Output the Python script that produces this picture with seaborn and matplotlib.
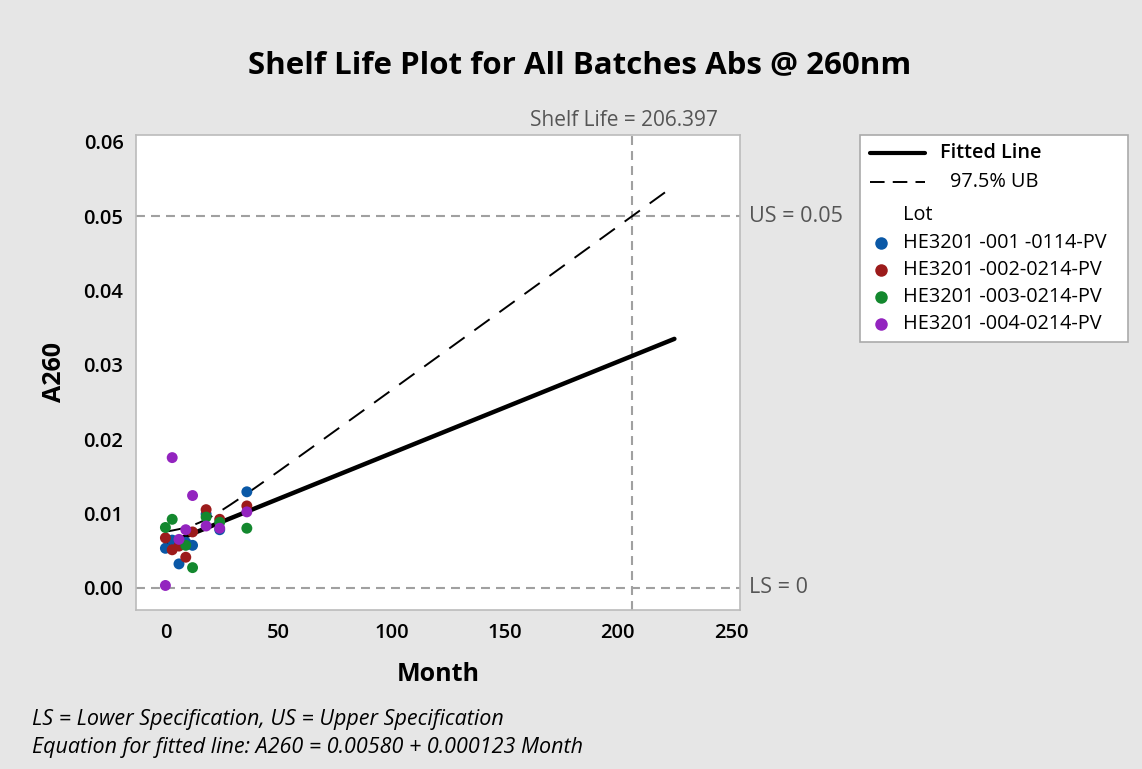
import numpy as np
import pandas as pd
import matplotlib
matplotlib.use("Agg")
import matplotlib.pyplot as plt
import seaborn as sns
from matplotlib.lines import Line2D
from matplotlib.patches import Rectangle

# ---- data ----
lots = ["HE3201 -001 -0114-PV", "HE3201 -002-0214-PV",
        "HE3201 -003-0214-PV", "HE3201 -004-0214-PV"]
lot_colors = ["#0a58a6", "#9c1b1b", "#13882e", "#9324bf"]

lot1_month = [0, 3, 6, 9, 12, 18, 24, 36]
lot1_a260 = [0.0053, 0.0064, 0.0032, 0.0061, 0.0057, 0.0099, 0.0078, 0.0129]
lot2_month = [0, 3, 6, 9, 12, 18, 24, 36]
lot2_a260 = [0.0067, 0.0051, 0.0056, 0.0041, 0.0075, 0.0105, 0.0092, 0.0110]
lot3_month = [0, 3, 9, 12, 18, 24, 36]
lot3_a260 = [0.0081, 0.0092, 0.0057, 0.0027, 0.0095, 0.0088, 0.0080]
lot4_month = [0, 3, 6, 9, 12, 18, 24, 36]
lot4_a260 = [0.0003, 0.0175, 0.0065, 0.0078, 0.0124, 0.0083, 0.0080, 0.0102]

intercept = 0.00580
slope = 0.000123
shelf_life = 206.397
upper_spec = 0.05
lower_spec = 0.0
fit_end = 225.0

xticks = [0, 50, 100, 150, 200, 250]
yticks = [0.00, 0.01, 0.02, 0.03, 0.04, 0.05, 0.06]

# ---- build table ----
frames = []
for name, m, v in zip(lots,
                      [lot1_month, lot2_month, lot3_month, lot4_month],
                      [lot1_a260, lot2_a260, lot3_a260, lot4_a260]):
    frames.append(pd.DataFrame({"Month": m, "A260": v, "Lot": name}))
df = pd.concat(frames, ignore_index=True)

# fitted line and 97.5% upper bound (scaled so it reaches US at shelf life)
xs = np.linspace(0, fit_end, 300)
fit = intercept + slope * xs
n = len(df)
xbar = df["Month"].mean()
sxx = ((df["Month"] - xbar) ** 2).sum()
def se_factor(x):
    return np.sqrt(1.0 / n + (x - xbar) ** 2 / sxx)
k = (upper_spec - (intercept + slope * shelf_life)) / se_factor(shelf_life)
ub = fit + k * se_factor(xs)
lines = pd.DataFrame({"Month": xs, "fit": fit, "ub": ub})

# ---- plot ----
sns.set_theme(style="white")
plt.rcParams["font.family"] = ["Open Sans", "DejaVu Sans"]
bg = "#e6e6e6"
W, H = 1142, 769
fig = plt.figure(figsize=(W / 100, H / 100), dpi=100, facecolor=bg)
ax = fig.add_axes([136 / W, 1 - 610 / H, (740 - 136) / W, (610 - 135) / H])
ax.set_facecolor("white")

grey = "#a0a0a0"
spec_ls = (0, (4.3, 2.9))
ax.axhline(upper_spec, color=grey, ls=spec_ls, lw=1.5, zorder=1)
ax.axhline(lower_spec, color=grey, ls=spec_ls, lw=1.5, zorder=1)
ax.axvline(shelf_life, color=grey, ls=spec_ls, lw=1.5, zorder=1)

sns.lineplot(data=lines, x="Month", y="ub", ax=ax, color="black", lw=1.4,
             linestyle=(0, (9.7, 6.2)), zorder=2)
sns.lineplot(data=lines, x="Month", y="fit", ax=ax, color="black", lw=3.2,
             zorder=3)
sns.scatterplot(data=df, x="Month", y="A260", hue="Lot", hue_order=lots,
                palette=lot_colors, s=62, edgecolor="none", legend=False,
                ax=ax, zorder=4)

ax.set_xlim(-13, 254)
ax.set_ylim(-0.003, 0.0609)
ax.set_xticks(xticks)
ax.set_yticks(yticks)
ax.set_yticklabels([f"{t:.2f}" for t in yticks])
ax.tick_params(axis="both", labelsize=14.5, length=5, width=1.2,
               direction="out", color="#aaaaaa", labelcolor="black", pad=4)
for lab in ax.get_xticklabels() + ax.get_yticklabels():
    lab.set_fontweight("semibold")
for s in ax.spines.values():
    s.set_color("#bbbbbb")
    s.set_linewidth(1.2)

ax.set_xlabel("Month", fontsize=18, fontweight="bold", labelpad=14,
              color="black")
ax.set_ylabel("A260", fontsize=18, fontweight="bold", labelpad=12,
              color="black")

ax.text(1.015, upper_spec, "US = 0.05", transform=ax.get_yaxis_transform(),
        va="center", ha="left", fontsize=15.5, color="#555555")
ax.text(1.015, lower_spec, "LS = 0", transform=ax.get_yaxis_transform(),
        va="center", ha="left", fontsize=15.5, color="#555555")
ax.text(shelf_life - 3.5, 1.008, f"Shelf Life = {shelf_life:.3f}",
        transform=ax.get_xaxis_transform(), ha="center", va="bottom",
        fontsize=15, color="#555555")

fig.text(580 / W, 1 - 65 / H, "Shelf Life Plot for All Batches Abs @ 260nm",
         ha="center", va="center", fontsize=22.5, fontweight="bold",
         color="black")

fig.text(32 / W, 1 - 720 / H,
         "LS = Lower Specification, US = Upper Specification",
         fontsize=15.5, style="italic", va="center", color="black")
fig.text(32 / W, 1 - 748 / H,
         f"Equation for fitted line: A260 = {intercept:.5f} + {slope:.6f} Month",
         fontsize=15.5, style="italic", va="center", color="black")

# ---- legend box (figure pixel layout) ----
def fx(px):
    return px / W
def fy(py):
    return 1 - py / H

fig.add_artist(Rectangle((fx(860), fy(342)), fx(1128) - fx(860),
                         fy(135) - fy(342), transform=fig.transFigure,
                         facecolor="white", edgecolor="#aaaaaa", lw=1.2))
fig.add_artist(Line2D([fx(870), fx(925)], [fy(153), fy(153)],
                      transform=fig.transFigure, color="black", lw=3))
fig.add_artist(Line2D([fx(870), fx(925)], [fy(182), fy(182)],
                      transform=fig.transFigure, color="black", lw=1.4,
                      ls=(0, (7.5, 4.2))))
leg_fs = 14.3
fig.text(fx(940), fy(153), "Fitted Line", fontsize=leg_fs,
         fontweight="semibold", va="center", color="black")
fig.text(fx(950), fy(182), "97.5% UB", fontsize=leg_fs, va="center",
         color="black")
fig.text(fx(903), fy(215), "Lot", fontsize=leg_fs, va="center",
         color="black")
for i, (name, c) in enumerate(zip(lots, lot_colors)):
    yy = 243 + 27 * i
    fig.add_artist(Line2D([fx(881)], [fy(yy)], transform=fig.transFigure,
                          marker="o", markersize=9, markerfacecolor=c,
                          markeredgecolor="none", ls="none"))
    fig.text(fx(903), fy(yy), name, fontsize=leg_fs, va="center",
             color="black")

fig.savefig("out.png", dpi=100, facecolor=bg)
